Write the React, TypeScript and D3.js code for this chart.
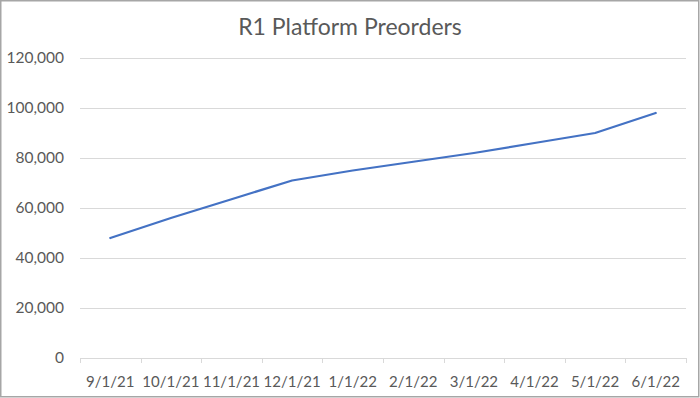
import React from "react";
import * as d3 from "d3";

const categories = ["9/1/21", "10/1/21", "11/1/21", "12/1/21", "1/1/22", "2/1/22", "3/1/22", "4/1/22", "5/1/22", "6/1/22"];
const preorders = [48000, 56000, 63500, 71000, 75000, 78500, 82000, 86000, 90000, 98000];
const yTicks = [0, 20000, 40000, 60000, 80000, 100000, 120000];
const title = "R1 Platform Preorders";

const W = 700;
const H = 398;
const left = 80;
const right = 686;
const top = 58;
const bottom = 358;
const FONT = "Lato, 'Open Sans', sans-serif";
const TEXT = "#595959";

export default function App() {
  const x = d3.scaleBand<string>().domain(categories).range([left, right]).padding(0);
  const y = d3.scaleLinear().domain([0, 120000]).range([bottom, top]);
  const fmt = d3.format(",");
  const line = d3
    .line<number>()
    .x((_, i) => (x(categories[i]) as number) + x.bandwidth() / 2)
    .y((d) => y(d));
  const boundaries = categories.map((c) => x(c) as number).concat([right]);

  return (
    <svg width={W} height={H} style={{ position: "absolute", left: 0, top: 0, background: "#fff" }}>
      <rect x={0.75} y={0.75} width={W - 2} height={H - 2} fill="#fff" stroke="#a6a6a6" strokeWidth={1.5} />
      <text x={350} y={35} textAnchor="middle" fontFamily={FONT} fontSize={23} fill={TEXT}>
        {title}
      </text>
      {yTicks.map((t) => (
        <g key={t}>
          <line x1={left} x2={right} y1={Math.round(y(t)) + 0.5} y2={Math.round(y(t)) + 0.5} stroke="#d9d9d9" strokeWidth={1} />
          <text x={64} y={y(t)} dy="0.35em" textAnchor="end" fontFamily={FONT} fontSize={15.5} fill={TEXT}>
            {fmt(t)}
          </text>
        </g>
      ))}
      {boundaries.map((b, i) => (
        <line key={i} x1={Math.round(b) + 0.5} x2={Math.round(b) + 0.5} y1={bottom} y2={bottom + 5} stroke="#d9d9d9" strokeWidth={1} />
      ))}
      {categories.map((c) => (
        <text key={c} x={(x(c) as number) + x.bandwidth() / 2} y={387} textAnchor="middle" fontFamily={FONT} fontSize={15} fill={TEXT}>
          {c}
        </text>
      ))}
      <path d={line(preorders) as string} fill="none" stroke="#4472C4" strokeWidth={2.25} strokeLinejoin="round" strokeLinecap="round" />
    </svg>
  );
}
